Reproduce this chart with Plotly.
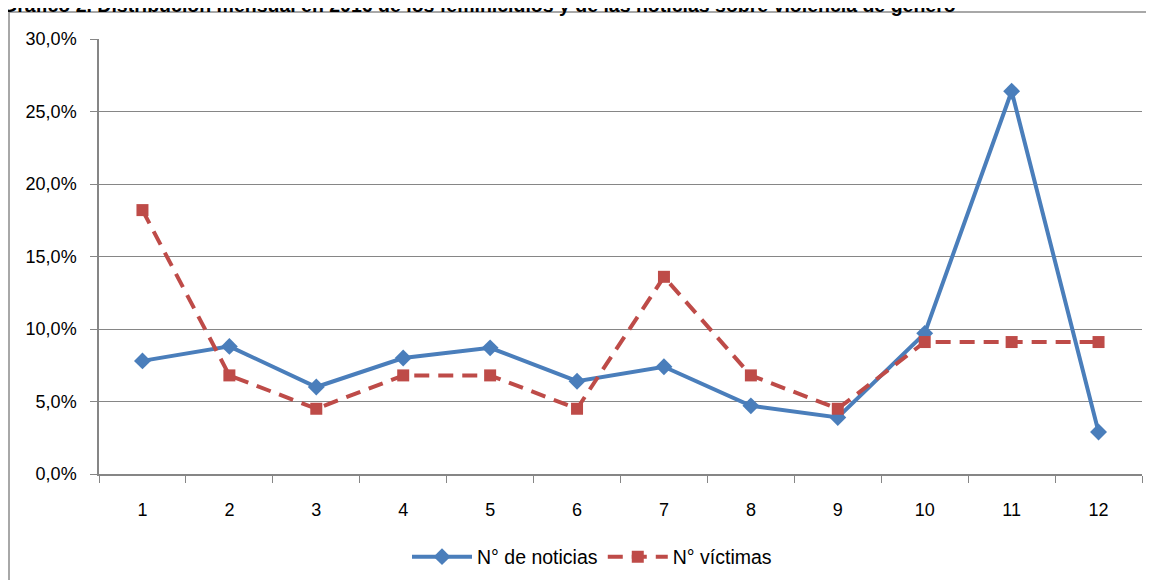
import plotly.graph_objects as go

months = ["1", "2", "3", "4", "5", "6", "7", "8", "9", "10", "11", "12"]
noticias = [0.078, 0.088, 0.060, 0.080, 0.087, 0.064, 0.074, 0.047, 0.039, 0.097, 0.264, 0.029]
victimas = [0.182, 0.068, 0.045, 0.068, 0.068, 0.045, 0.136, 0.068, 0.045, 0.091, 0.091, 0.091]

TITLE = ("Gráfico 2. Distribución mensual en 2016 de los feminicidios "
         "y de las noticias sobre violencia de género")
BLUE = "#4A7EBB"
RED = "#BE4B48"
GRID = "#868686"
FONT = "Liberation Sans Narrow, Liberation Sans, Arial, sans-serif"

# the page body adds an 8px margin, so work in screen pixels and shift back
OFF = 8
W, H = 1154 - OFF, 580 - OFF
X0, X1, Y0, Y1 = 99 - OFF, 1142 - OFF, 39 - OFF, 474 - OFF   # plot area
pw, ph = X1 - X0, Y1 - Y0


def px_x(x):
    return (x - OFF - X0) / pw


def px_y(y):
    return (Y1 - (y - OFF)) / ph


fig = go.Figure()
fig.add_trace(go.Scatter(
    x=months, y=noticias, name="N° de noticias", mode="lines+markers",
    line=dict(color=BLUE, width=4),
    marker=dict(symbol="diamond", size=13, color=BLUE),
))
fig.add_trace(go.Scatter(
    x=months, y=victimas, name="N° víctimas", mode="lines+markers",
    line=dict(color=RED, width=4, dash="15px,9px"),
    marker=dict(symbol="square", size=12, color=RED),
))

# outer chart frame (only top and left visible in the crop)
fig.add_shape(type="rect", xref="paper", yref="paper",
              x0=px_x(9), x1=px_x(1250), y0=px_y(700), y1=px_y(12),
              line=dict(color="#8C8C8C", width=1.5), layer="below")

fig.add_annotation(text=TITLE, xref="paper", yref="paper", x=px_x(0), y=px_y(5),
                   xanchor="left", yanchor="middle", showarrow=False,
                   font=dict(family="Liberation Sans", size=19.5, color="black", weight="bold"))

fig.update_xaxes(
    type="category", tickson="boundaries", ticks="outside", ticklen=7,
    tickcolor=GRID, showline=True, linecolor=GRID, linewidth=1.5,
    showgrid=False, tickfont=dict(family=FONT, size=18, color="black"),
    range=[-0.5, 11.5], automargin=False, ticklabelstandoff=19,
)
fig.update_yaxes(
    range=[0, 0.30], dtick=0.05, tickformat=".1%", ticks="outside", ticklen=7,
    tickcolor=GRID, showline=True, linecolor=GRID, linewidth=1.5,
    showgrid=True, gridcolor=GRID, gridwidth=1.2, zeroline=False,
    tickfont=dict(family=FONT, size=18, color="black"),
    automargin=False, ticklabelstandoff=10,
)
fig.update_layout(
    width=W, height=H,
    margin=dict(l=X0, r=W - X1, t=Y0, b=H - Y1, autoexpand=False),
    paper_bgcolor="white", plot_bgcolor="white",
    separators=",.",
    showlegend=True,
    legend=dict(orientation="h", x=px_x(592), xanchor="center",
                y=px_y(557), yanchor="middle",
                font=dict(family=FONT, size=19.5, color="black"),
                itemwidth=60),
)

fig.write_html("out.html")
